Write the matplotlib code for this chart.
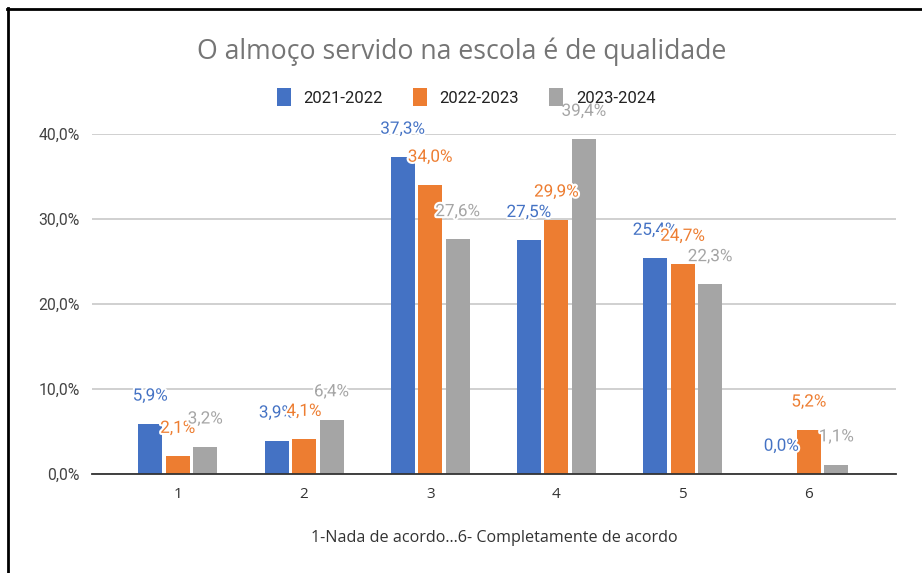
import matplotlib
matplotlib.use("Agg")
import matplotlib.pyplot as plt
import matplotlib.patheffects as pe
from matplotlib.lines import Line2D
import numpy as np

categories = ["1", "2", "3", "4", "5", "6"]
series_names = ["2021-2022", "2022-2023", "2023-2024"]
v2021 = [5.9, 3.9, 37.3, 27.5, 25.4, 0.0]
v2022 = [2.1, 4.1, 34.0, 29.9, 24.7, 5.2]
v2023 = [3.2, 6.4, 27.6, 39.4, 22.3, 1.1]
yticks = [0, 10, 20, 30, 40]
title = "O almoço servido na escola é de qualidade"
xlabel = "1-Nada de acordo...6- Completamente de acordo"

colors = ["#4472C4", "#ED7D31", "#A5A5A5"]

W, H, DPI = 922, 573, 100
fig = plt.figure(figsize=(W / DPI, H / DPI), dpi=DPI)
fig.patch.set_facecolor("white")

ax = fig.add_axes([92 / W, 1 - 474 / H, (896 - 92) / W, (474 - 134) / H])
ax.set_facecolor("white")

x = np.arange(1, len(categories) + 1)
step = 0.218
width = 0.19
all_vals = [v2021, v2022, v2023]

bars = []
for i, (vals, c) in enumerate(zip(all_vals, colors)):
    b = ax.bar(x + (i - 1) * step, vals, width=width, color=c, zorder=3,
               label=series_names[i])
    bars.append(b)

ax.set_xlim(0.32, 6.69)
ax.set_ylim(0, 40)
ax.set_yticks(yticks)
ax.set_yticklabels([f"{t:.1f}%".replace(".", ",") for t in yticks],
                   fontfamily="Roboto", fontsize=11.3, color="#444444")
ax.set_xticks(x)
ax.set_xticklabels(categories, fontfamily="Open Sans", fontsize=11, color="#333333")
ax.tick_params(axis="both", length=0)
ax.tick_params(axis="y", pad=9)
ax.tick_params(axis="x", pad=9)

for s in ["top", "right", "left"]:
    ax.spines[s].set_visible(False)
ax.spines["bottom"].set_color("#333333")
ax.spines["bottom"].set_linewidth(1.3)
ax.spines["bottom"].set_zorder(4)

ax.yaxis.grid(True, color="#d0d0d0", linewidth=1.4, zorder=0)
ax.set_axisbelow(True)

# data labels
for i, (vals, c) in enumerate(zip(all_vals, colors)):
    for b, v in zip(bars[i], vals):
        ax.annotate(f"{v:.1f}%".replace(".", ","),
                    xy=(b.get_x() + b.get_width() / 2, v),
                    xytext=(0, 20), textcoords="offset points",
                    ha="center", va="center", fontfamily="Roboto",
                    fontsize=12.3, color=c, zorder=10 + i, annotation_clip=False,
                    path_effects=[pe.withStroke(linewidth=3, foreground="white")])

fig.text(462 / W, 1 - 52 / H, title, ha="center", va="center",
         fontfamily="Open Sans", fontsize=19.2, color="#757575")

leg = fig.legend(handles=bars, labels=series_names, loc="center",
                 bbox_to_anchor=(466 / W, 1 - 97 / H), ncol=3, frameon=False,
                 prop={"family": "Roboto", "size": 12}, handlelength=0.85,
                 handleheight=1.25, handletextpad=0.75, columnspacing=1.8)
for t in leg.get_texts():
    t.set_color("#222222")

fig.text(494 / W, 1 - 538 / H, xlabel, ha="center", va="center",
         fontfamily="Open Sans", fontsize=11.6, color="#333333")

# frame
fig.add_artist(Line2D([7 / W, 1], [1 - 9.3 / H, 1 - 9.3 / H], color="black",
                      linewidth=2.0, transform=fig.transFigure))
fig.add_artist(Line2D([7.5 / W, 7.5 / W], [0, 1 - 8.3 / H], color="black",
                      linewidth=2.0, transform=fig.transFigure))

fig.savefig("out.png", dpi=DPI)
